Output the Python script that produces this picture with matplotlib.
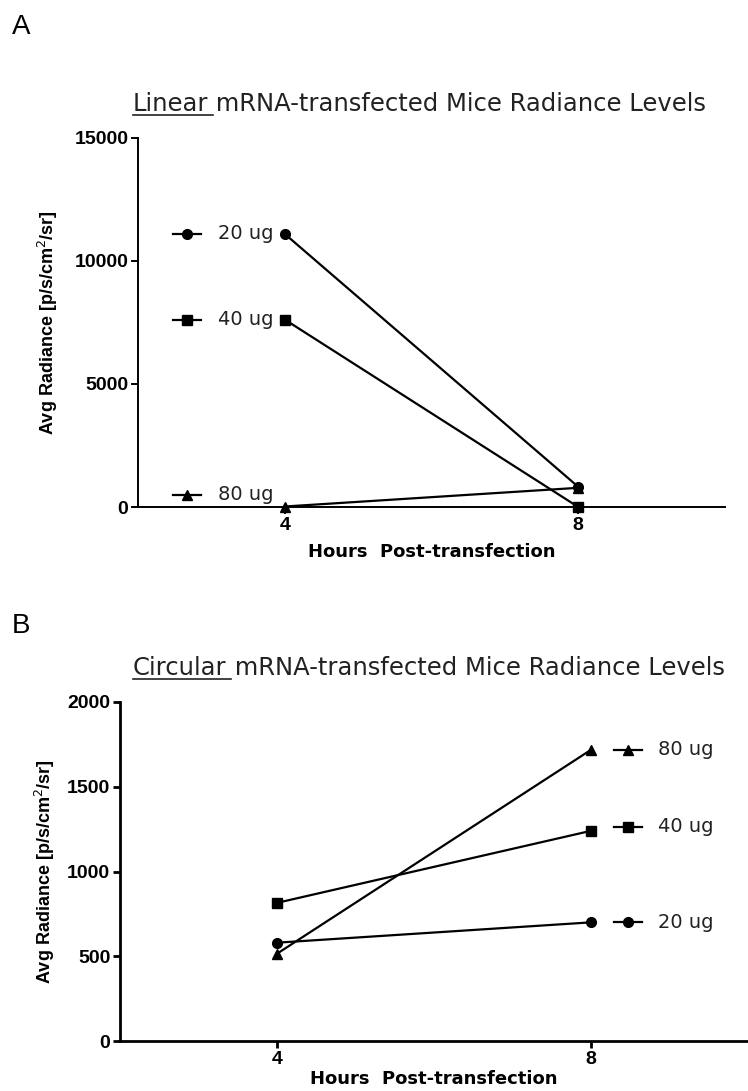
import matplotlib.pyplot as plt
from matplotlib.lines import Line2D

plt.rcParams['font.family'] = ['Liberation Sans', 'DejaVu Sans']

hours = [4, 8]
doses = ['20 ug', '40 ug', '80 ug']
markers = ['o', 's', '^']

# panel A: linear mRNA
linear_vals = {'20 ug': [11100, 820], '40 ug': [7620, 0], '80 ug': [20, 780]}
# panel B: circular mRNA
circular_vals = {'20 ug': [580, 700], '40 ug': [815, 1240], '80 ug': [515, 1718]}

W, H = 748, 1091
fig = plt.figure(figsize=(W / 100, H / 100), dpi=100)

axA = fig.add_axes([138/W, 1-507/H, 587/W, 369/H])
axB = fig.add_axes([120/W, 1-1041/H, 628/W, 339/H])


def style_axes(ax, ymax, ystep, lw, hpx, ylab_x, xlab_off):
    ax.set_xlim(2, 10)
    ax.set_ylim(0, ymax)
    ax.set_xticks(hours)
    ax.set_yticks(range(0, ymax + 1, ystep))
    for s in ['top', 'right']:
        ax.spines[s].set_visible(False)
    for s in ['left', 'bottom']:
        ax.spines[s].set_linewidth(lw)
    ax.tick_params(direction='out', length=5, width=lw, labelsize=14, pad=2)
    for lab in ax.get_xticklabels() + ax.get_yticklabels():
        lab.set_fontweight('bold')
    ax.set_xlabel('Hours  Post-transfection', fontsize=13, fontweight='bold', va='center',
                  family='DejaVu Sans')
    ax.xaxis.set_label_coords(0.5, -xlab_off / hpx)
    ax.set_ylabel('Avg Radiance [p/s/cm$^2$/sr]', fontsize=13, fontweight='bold', va='center')
    ax.yaxis.set_label_coords(ylab_x, 0.5)


def draw_series(ax, vals, side, nudges):
    for dose, mk in zip(doses, markers):
        y = vals[dose]
        ax.plot(hours, y, color='black', lw=1.6, marker=mk, ms=7, clip_on=False, zorder=3)
        if side == 'left':
            xa, ya = hours[0], y[0]
            seg, txt = (-112, -84), -67
        else:
            xa, ya = hours[1], y[1]
            seg, txt = (23, 51), 67
        dy = nudges.get(dose, 0)
        # little legend key: short line with marker, offset in pixels from the point
        px, py = ax.transData.transform((xa, ya))
        fig.add_artist(Line2D([(px + seg[0]) / W, (px + seg[1]) / W], [(py + dy) / H] * 2,
                              color='black', lw=1.6, transform=fig.transFigure))
        fig.add_artist(Line2D([(px + sum(seg) / 2) / W], [(py + dy) / H], marker=mk, ms=7,
                              color='black', transform=fig.transFigure))
        ax.annotate(dose, (xa, ya), xytext=(txt, dy), textcoords='offset pixels',
                    ha='left', va='center', fontsize=14, color='#222222',
                    family='DejaVu Sans')


style_axes(axA, 15000, 5000, 1.4, 369, -(138 - 48) / 587, 45)
style_axes(axB, 2000, 500, 2.0, 339, -(120 - 45) / 628, 38)
draw_series(axA, linear_vals, 'left', {'80 ug': 12})
draw_series(axB, circular_vals, 'right', {'40 ug': 4})

fig.text(12/W, 1-27/H, 'A', fontsize=20, va='center', ha='left')
fig.text(12/W, 1-626/H, 'B', fontsize=20, va='center', ha='left')


def underlined_title(x, y, first, rest):
    t1 = fig.text(x, y, first, fontsize=17.5, va='center', ha='left', color='#222222',
                  family='DejaVu Sans')
    fig.canvas.draw()
    bb = t1.get_window_extent()
    fig.text(bb.x1 / W, y, ' ' + rest, fontsize=17.5, va='center', ha='left', color='#222222',
             family='DejaVu Sans')
    fig.add_artist(Line2D([bb.x0 / W, (bb.x1 + 4) / W], [(bb.y0 + 1) / H] * 2,
                          color='#222222', lw=1.2, transform=fig.transFigure))


underlined_title(133/W, 1-104/H, 'Linear', 'mRNA-transfected Mice Radiance Levels')
underlined_title(133/W, 1-668/H, 'Circular', 'mRNA-transfected Mice Radiance Levels')

fig.savefig('out.png', dpi=100)
